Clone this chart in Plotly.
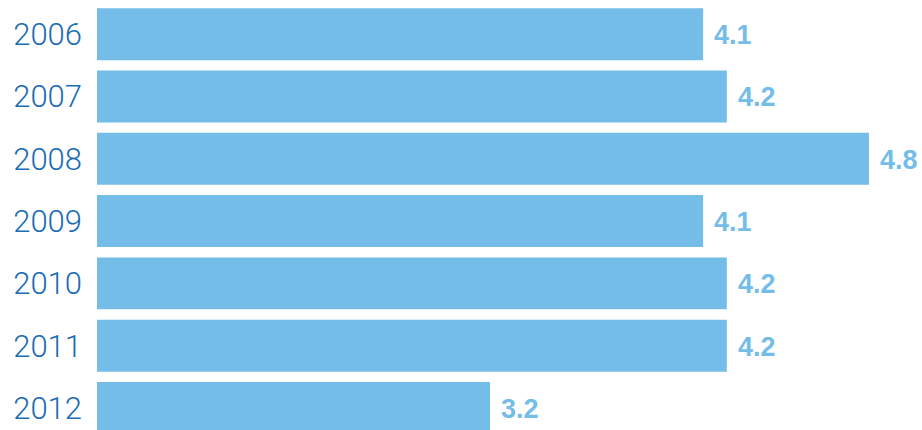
import plotly.graph_objects as go

years = ["2006", "2007", "2008", "2009", "2010", "2011", "2012"]
values = [4.1, 4.2, 4.8, 4.1, 4.2, 4.2, 3.2]

BAR_COLOR = "#75bde9"
YEAR_COLOR = "#1a6cb5"

fig = go.Figure(
    go.Bar(
        x=values,
        y=years,
        orientation="h",
        marker=dict(color=BAR_COLOR, line=dict(width=0)),
        hoverinfo="skip",
    )
)

# value labels just beyond the end of each bar (y given as category index)
for i, v in enumerate(values):
    fig.add_annotation(
        x=v, y=i, xref="x", yref="y",
        text=f"<b>{v:.1f}</b>",
        showarrow=False, xanchor="left", yanchor="middle", xshift=9, yshift=-1,
        font=dict(family="Liberation Sans, Arial, sans-serif", size=27, color=BAR_COLOR),
    )

fig.update_layout(
    width=922, height=430,
    margin=dict(l=97, r=0, t=3, b=0),
    paper_bgcolor="white", plot_bgcolor="white",
    bargap=0.166,
    showlegend=False,
    xaxis=dict(range=[1.541, 5.024], visible=False, showgrid=False, zeroline=False),
    yaxis=dict(
        type="category",
        range=[6.353, -0.5],
        showgrid=False, zeroline=False, showline=False, ticks="",
        ticklabelstandoff=14,
        tickfont=dict(family="Roboto, Liberation Sans, sans-serif", size=31,
                      weight=300, color=YEAR_COLOR),
    ),
)

fig.write_html("out.html")
